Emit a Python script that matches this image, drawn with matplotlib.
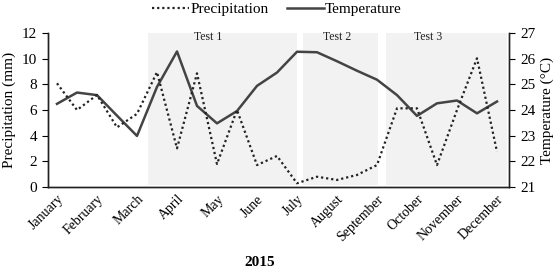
import matplotlib
matplotlib.use("Agg")
import matplotlib.pyplot as plt
import numpy as np

# ---- data ----
months = ["January", "February", "March", "April", "May", "June", "July",
          "August", "September", "October", "November", "December"]
precipitation = [8.08, 6.0, 7.17, 4.65, 5.7, 8.95, 3.01, 8.86, 1.79, 6.0, 1.71, 2.42,
                 0.29, 0.8, 0.55, 0.94, 1.71, 6.13, 6.13, 1.71, 6.0, 10.03, 2.75]
temperature = [24.24, 24.68, 24.58, 23.78, 22.99, 24.9, 26.28, 24.16, 23.48, 23.96,
               24.94, 25.46, 26.27, 26.25, 25.9, 25.53, 25.18, 24.58, 23.77, 24.26,
               24.37, 23.87, 24.33]
tests = ["Test 1", "Test 2", "Test 3"]
test_spans = [(4.55, 12.0), (12.3, 16.05), (16.45, 22.5)]
test_label_x = [7.55, 14.0, 18.55]

plt.rcParams['font.family'] = ['Liberation Serif', 'DejaVu Serif']

fig = plt.figure(figsize=(5.56, 2.68), dpi=100)
ax = fig.add_axes([48/556, 1-187/268, (509-48)/556, (187-33)/268])
ax2 = ax.twinx()

x = np.arange(len(precipitation))

for (a, b), name, lx in zip(test_spans, tests, test_label_x):
    ax2.axvspan(a, b, ymin=0.01, ymax=1, color='#f2f2f2', lw=0, zorder=0)
    ax.text(lx, 11.65, name, ha='center', va='center', fontsize=8.5, color='#222222')

lp, = ax.plot(x, precipitation, linestyle=(0, (1, 1.3)), color='#222222', lw=1.6,
              label='Precipitation')
lt, = ax2.plot(x, temperature, '-', color='#444444', lw=1.8, label='Temperature', zorder=2)

ax.set_xlim(-0.45, 22.6)
ax.set_ylim(0, 12)
ax.set_yticks(np.arange(0, 13, 2))
ax2.set_ylim(21, 27)
ax2.set_yticks(np.arange(21, 28, 1))

ax.set_xticks(np.arange(0, 23, 2))
ax.set_xticklabels(months, rotation=45, ha='right', rotation_mode='anchor', fontsize=10)
ax.tick_params(axis='x', length=0, pad=4)
ax.tick_params(axis='y', labelsize=11, length=4, direction='out', pad=4)
ax2.tick_params(axis='y', labelsize=11, length=4, direction='out', pad=4)

for a in (ax, ax2):
    a.spines['top'].set_visible(False)
    for s in ('left', 'right', 'bottom'):
        a.spines[s].set_color('#222222')
        a.spines[s].set_linewidth(1.0)

ax.set_ylabel('Precipitation (mm)', fontsize=11, labelpad=4)
ax2.set_ylabel('Temperature (°C)', fontsize=11, labelpad=4)
ax.set_zorder(ax2.get_zorder() + 1)
ax.patch.set_visible(False)

fig.text(260/556, 1-262/268, '2015', ha='center', va='center', fontsize=11, fontweight='bold')

fig.legend(handles=[lp, lt], loc='center', bbox_to_anchor=(277/556, 1-9/268), ncol=2,
           frameon=False, fontsize=11, handlelength=2.4, handletextpad=0.1,
           columnspacing=1.2, borderaxespad=0, borderpad=0)

fig.savefig('out.png', dpi=100)
